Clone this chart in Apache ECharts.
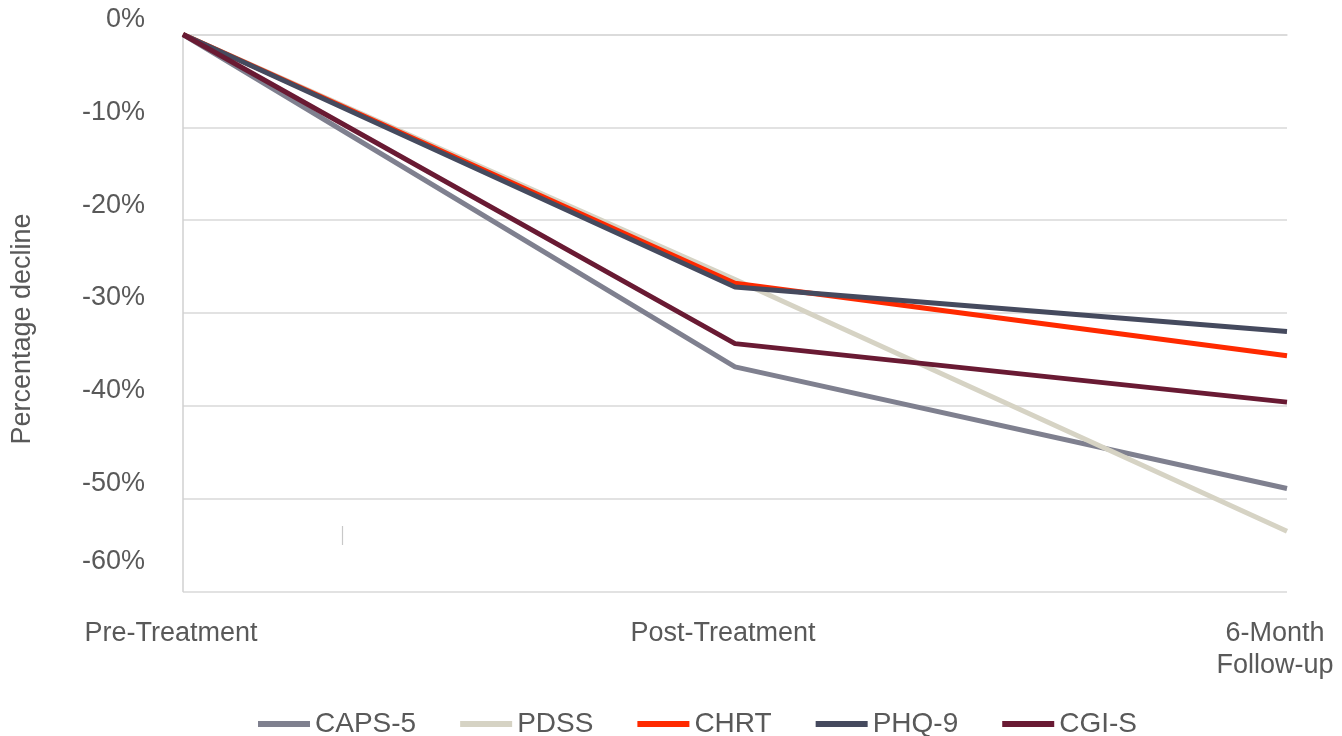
<!DOCTYPE html>
<html>
<head>
<meta charset="utf-8">
<style>
html,body{margin:0;padding:0;background:#fff;}
#chart{width:1342px;height:736px;}
</style>
<script src="https://cdn.jsdelivr.net/npm/echarts@6/dist/echarts.min.js"></script>
</head>
<body>
<div id="chart"></div>
<script>
const categories = ['Pre-Treatment', 'Post-Treatment', '6-Month\nFollow-up'];
const seriesNames = ['CAPS-5', 'PDSS', 'CHRT', 'PHQ-9', 'CGI-S'];
const caps5 = [0, -35.8, -48.9];
const pdss  = [0, -26.4, -53.5];
const chrt  = [0, -26.8, -34.6];
const phq9  = [0, -27.2, -32.0];
const cgis  = [0, -33.3, -39.6];
const yTicks = [0, -10, -20, -30, -40, -50, -60];
const colors = ['#7f808f', '#d6d3c4', '#ff2a00', '#454a5e', '#691a33'];

const seriesData = [caps5, pdss, chrt, phq9, cgis];
const txt = '#595959';
const font = 'Liberation Sans, Arial, sans-serif';

const chart = echarts.init(document.getElementById('chart'));
chart.setOption({
  animation: false,
  color: colors,
  grid: { left: 183, right: 55, top: 34.5, bottom: 144.5, containLabel: false, outerBoundsMode: 'none' },
  legend: {
    data: seriesNames,
    left: 253,
    top: 705,
    icon: 'rect',
    itemWidth: 52,
    itemHeight: 6,
    itemGap: 44,
    textStyle: { color: txt, fontSize: 28, fontFamily: font, lineHeight: 28 }
  },
  xAxis: {
    type: 'category',
    data: categories,
    boundaryGap: false,
    axisLine: { show: true, lineStyle: { color: '#d9d9d9', width: 1.5 } },
    axisTick: { show: false },
    axisLabel: {
      color: txt, fontSize: 27, fontFamily: font, margin: 26, lineHeight: 32,
      padding: [0, 24, 0, 0], interval: 0
    },
    splitLine: { show: false }
  },
  yAxis: {
    type: 'value',
    min: -60, max: 0, interval: 10,
    axisLine: { show: true, lineStyle: { color: '#d0d0d0', width: 1.5 } },
    axisTick: { show: false },
    splitLine: { show: true, lineStyle: { color: '#d9d9d9', width: 1.5 } },
    axisLabel: {
      margin: 38,
      verticalAlign: 'middle',
      formatter: function (v) {
        const s = v + '%';
        return v === yTicks[yTicks.length - 1] ? '{b|' + s + '}' : '{a|' + s + '}';
      },
      rich: {
        a: { color: txt, fontSize: 27, fontFamily: font, padding: [0, 0, 30, 0] },
        b: { color: txt, fontSize: 27, fontFamily: font, padding: [0, 0, 60, 0] }
      }
    }
  },
  graphic: [
    {
      type: 'text',
      x: 23, y: 329,
      rotation: Math.PI / 2,
      style: {
        text: 'Percentage decline',
        fill: txt,
        font: '27px ' + font,
        textAlign: 'center',
        textVerticalAlign: 'middle'
      }
    },
    {
      type: 'line',
      shape: { x1: 342.5, y1: 526, x2: 342.5, y2: 545 },
      style: { stroke: '#c8c8c8', lineWidth: 1.2 }
    }
  ],
  series: seriesNames.map((name, i) => ({
    name: name,
    type: 'line',
    data: seriesData[i],
    symbol: 'none',
    lineStyle: { width: 5, color: colors[i] },
    itemStyle: { color: colors[i] }
  }))
});
</script>
</body>
</html>
